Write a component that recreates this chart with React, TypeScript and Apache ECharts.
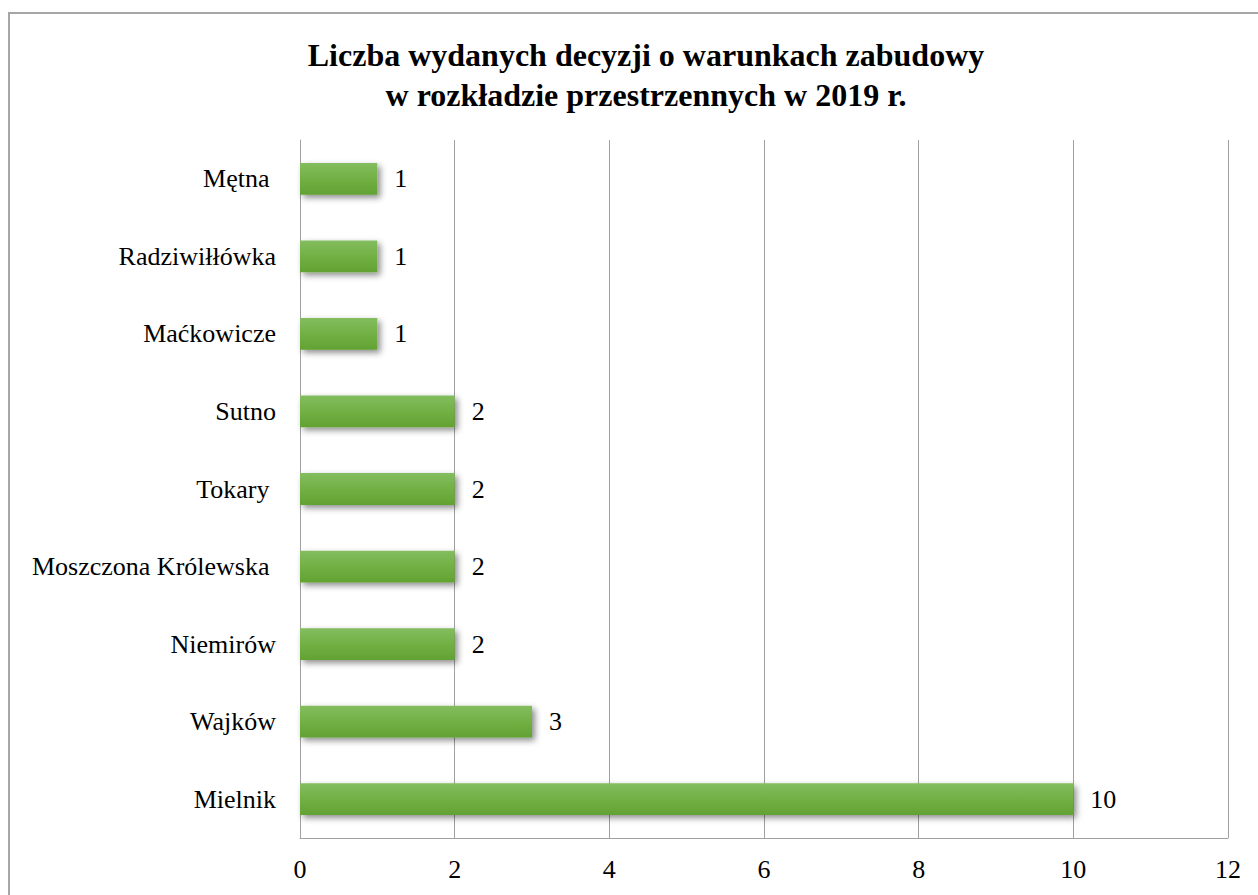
import React, { useEffect, useRef } from "react";
import * as echarts from "echarts";

const titleLines = [
  "Liczba wydanych decyzji o warunkach zabudowy",
  "w rozkładzie przestrzennych w 2019 r.",
];
const categories = [
  "Mielnik",
  "Wajków",
  "Niemirów",
  "Moszczona Królewska ",
  "Tokary ",
  "Sutno",
  "Maćkowicze",
  "Radziwiłłówka",
  "Mętna ",
];
const values = [10, 3, 2, 2, 2, 2, 1, 1, 1];
const xMin = 0;
const xMax = 12;
const xInterval = 2;

const FONT = "Times New Roman, Liberation Serif, DejaVu Serif, serif";

export default function App() {
  const ref = useRef<HTMLDivElement>(null);
  useEffect(() => {
    if (!ref.current) return;
    const chart = echarts.init(ref.current, undefined, { renderer: "svg" });
    chart.setOption({
      animation: false,
      backgroundColor: "#ffffff",
      textStyle: { fontFamily: FONT },
      title: {
        text: titleLines.join("\n"),
        left: 641,
        top: 30,
        textAlign: "center",
        textStyle: {
          fontFamily: FONT,
          fontSize: 32,
          fontWeight: "bold",
          color: "#000",
          lineHeight: 40,
        },
      },
      graphic: [
        {
          type: "rect",
          shape: { x: 9, y: 13, width: 1270, height: 900 },
          style: { fill: "none", stroke: "#a6a6a6", lineWidth: 2 },
          silent: true,
          z: 100,
        },
      ],
      grid: { left: 300, right: 30, top: 140, bottom: 57, containLabel: false },
      xAxis: {
        type: "value",
        min: xMin,
        max: xMax,
        interval: xInterval,
        axisLine: { show: true, lineStyle: { color: "#a0a0a0", width: 1 } },
        axisTick: { show: false },
        splitLine: { show: true, lineStyle: { color: "#a0a0a0", width: 1 } },
        axisLabel: {
          fontFamily: FONT,
          fontSize: 26,
          color: "#000",
          margin: 18,
        },
      },
      yAxis: {
        type: "category",
        data: categories,
        axisLine: { show: true, lineStyle: { color: "#a0a0a0", width: 1 } },
        axisTick: { show: false },
        axisLabel: {
          fontFamily: FONT,
          fontSize: 26,
          color: "#000",
          margin: 24,
        },
      },
      series: [
        {
          type: "bar",
          data: values,
          barCategoryGap: "59%",
          itemStyle: {
            color: new echarts.graphic.LinearGradient(0, 0, 0, 1, [
              { offset: 0, color: "#83bd5f" },
              { offset: 0.5, color: "#72b044" },
              { offset: 1, color: "#62a232" },
            ]),
            shadowBlur: 6,
            shadowOffsetX: 3,
            shadowOffsetY: 3,
            shadowColor: "rgba(0,0,0,0.45)",
          },
          label: {
            show: true,
            position: "right",
            distance: 17,
            fontFamily: FONT,
            fontSize: 26,
            color: "#000",
          },
        },
      ],
    });
    return () => chart.dispose();
  }, []);
  return (
    <div
      ref={ref}
      style={{ position: "absolute", left: 0, top: 0, width: 1258, height: 895 }}
    />
  );
}
